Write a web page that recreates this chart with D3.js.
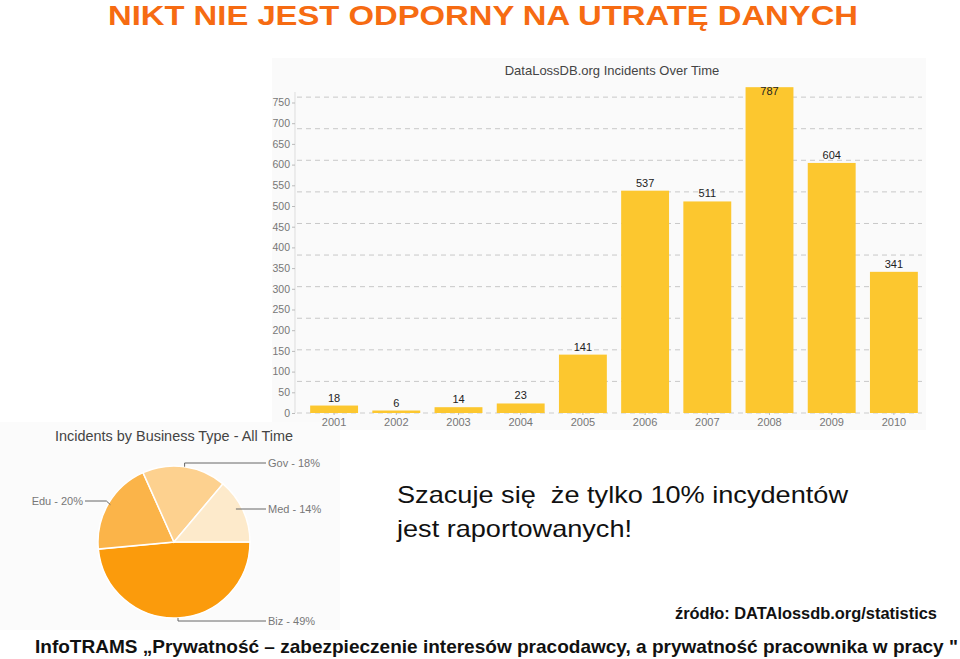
<!DOCTYPE html>
<html><head><meta charset="utf-8">
<script src="https://cdn.jsdelivr.net/npm/d3@7"></script>
<style>body{margin:0;background:#fff}svg{display:block}</style>
</head><body>
<svg id="c" width="960" height="659"></svg>
<script>
const years = ["2001","2002","2003","2004","2005","2006","2007","2008","2009","2010"];
const incidents = [18, 6, 14, 23, 141, 537, 511, 787, 604, 341];
const yTicks = [0,50,100,150,200,250,300,350,400,450,500,550,600,650,700,750];
const gridStep = 76.3;
const pieLabels = ["Biz","Edu","Gov","Med"];
const pieValues = [49, 20, 18, 14];
const pieColors = ["#fb9b0c","#fbb449","#fdd18f","#fdeacb"];

const svg = d3.select("#c");
const SANS = "'Liberation Sans', Arial, Helvetica, sans-serif";

// backgrounds of the embedded images
svg.append("rect").attr("x",272).attr("y",58).attr("width",654).attr("height",372).attr("fill","#fafafa");
svg.append("rect").attr("x",0).attr("y",422).attr("width",340).attr("height",208).attr("fill","#fbfbfb");

// main title
svg.append("text").attr("x",483).attr("y",25).attr("text-anchor","middle")
  .attr("font-family",SANS).attr("font-weight","bold").attr("font-size",28)
  .attr("fill","#f66b12").attr("textLength",750).attr("lengthAdjust","spacingAndGlyphs")
  .text("NIKT NIE JEST ODPORNY NA UTRATĘ DANYCH");

// bar chart
const x = d3.scaleBand().domain(years).range([303,925]).paddingInner(0.23).paddingOuter(0.115);
const y = d3.scaleLinear().domain([0,750]).range([413,102.5]);

svg.append("text").attr("x",612).attr("y",75).attr("text-anchor","middle")
  .attr("font-family",SANS).attr("font-size",13).attr("fill","#444")
  .text("DataLossDB.org Incidents Over Time");

const gridVals = d3.range(1,11).map(i=>i*gridStep);
svg.append("g").selectAll("line").data(gridVals).join("line")
  .attr("x1",297).attr("x2",922).attr("y1",d=>y(d)).attr("y2",d=>y(d))
  .attr("stroke","#c8c8c8").attr("stroke-width",1).attr("stroke-dasharray","5,4");

const yAxis = svg.append("g").attr("transform","translate(295,0)")
  .call(d3.axisLeft(y).tickValues(yTicks).tickSize(3).tickPadding(2));
yAxis.select(".domain").attr("stroke","#ddd").attr("d","M0,92V413");
yAxis.selectAll(".tick line").attr("stroke","#bbb");
yAxis.selectAll(".tick text").attr("font-family",SANS).attr("font-size",10.5).attr("fill","#777");

svg.append("line").attr("x1",297).attr("x2",922).attr("y1",y(0)).attr("y2",y(0))
  .attr("stroke","#ccc").attr("stroke-dasharray","5,4");

svg.append("g").selectAll("rect").data(incidents).join("rect")
  .attr("x",(d,i)=>x(years[i])).attr("width",x.bandwidth())
  .attr("y",d=>y(d)).attr("height",d=>y(0)-y(d)).attr("fill","#fcc72f");

svg.append("g").selectAll("text").data(incidents).join("text")
  .attr("x",(d,i)=>x(years[i])+x.bandwidth()/2)
  .attr("y",d=>Math.max(y(d)-4, 95))
  .attr("text-anchor","middle").attr("font-family",SANS).attr("font-size",11).attr("fill","#222")
  .text(d=>d);

const xAxis = svg.append("g").attr("transform","translate(0,413)")
  .call(d3.axisBottom(x).tickSize(2).tickPadding(3));
xAxis.select(".domain").remove();
xAxis.selectAll(".tick line").attr("stroke","#bbb");
xAxis.selectAll(".tick text").attr("font-family",SANS).attr("font-size",11).attr("fill","#777");

// pie chart
svg.append("text").attr("x",174).attr("y",441).attr("text-anchor","middle")
  .attr("font-family",SANS).attr("font-size",15).attr("fill","#444")
  .attr("textLength",238).attr("lengthAdjust","spacingAndGlyphs")
  .text("Incidents by Business Type - All Time");

const pie = d3.pie().sort(null).startAngle(Math.PI/2).endAngle(Math.PI/2+2*Math.PI);
const arcs = pie(pieValues);
const R = 76;
const arc = d3.arc().innerRadius(0).outerRadius(R);
const pg = svg.append("g").attr("transform","translate(174,542)");
pg.selectAll("path").data(arcs).join("path").attr("d",arc)
  .attr("fill",(d,i)=>pieColors[i]).attr("stroke","#fff").attr("stroke-width",1.5);

// leader lines and labels
const labelX = 92;
arcs.forEach((a,i)=>{
  const mid = (a.startAngle+a.endAngle)/2;
  const px = Math.sin(mid)*R, py = -Math.cos(mid)*R;
  let pts, lx, anchor, ly;
  if (i===0) { ly = R+3; pts = [[4,R],[4,ly],[labelX,ly]]; lx = labelX+2; anchor="start"; }
  else if (i===1) { ly = -41; pts = [[px+2,py+1],[px-2,ly],[-89,ly]]; lx = -91; anchor="end"; }
  else if (i===2) { ly = -79; pts = [[px,py],[px,ly],[labelX,ly]]; lx = labelX+2; anchor="start"; }
  else { ly = -33; pts = [[px-7,ly],[labelX,ly]]; lx = labelX+2; anchor="start"; }
  pg.append("path").attr("d",d3.line()(pts)).attr("fill","none").attr("stroke","#666").attr("stroke-width",1);
  pg.append("text").attr("x", lx).attr("y",ly+4).attr("text-anchor", anchor)
    .attr("font-family",SANS).attr("font-size",11).attr("fill","#777")
    .text(pieLabels[i]+" - "+pieValues[i]+"%");
});

// annotation text
const note = svg.append("text").attr("font-family",SANS).attr("font-size",24).attr("fill","#111")
  .style("white-space","pre");
note.append("tspan").attr("x",397).attr("y",503).attr("textLength",451).attr("lengthAdjust","spacingAndGlyphs")
  .text("Szacuje się  że tylko 10% incydentów");
note.append("tspan").attr("x",397).attr("y",537).attr("textLength",235).attr("lengthAdjust","spacingAndGlyphs")
  .text("jest raportowanych!");

svg.append("text").attr("x",675).attr("y",619)
  .attr("font-family",SANS).attr("font-weight","bold").attr("font-size",16.5).attr("fill","#111")
  .attr("textLength",262).attr("lengthAdjust","spacingAndGlyphs")
  .text("źródło: DATAlossdb.org/statistics");

svg.append("text").attr("x",35).attr("y",653)
  .attr("font-family",SANS).attr("font-weight","bold").attr("font-size",19).attr("fill","#111")
  .attr("textLength",923).attr("lengthAdjust","spacingAndGlyphs")
  .text("InfoTRAMS „Prywatność – zabezpieczenie interesów pracodawcy, a prywatność pracownika w pracy \"");
</script>
</body></html>
